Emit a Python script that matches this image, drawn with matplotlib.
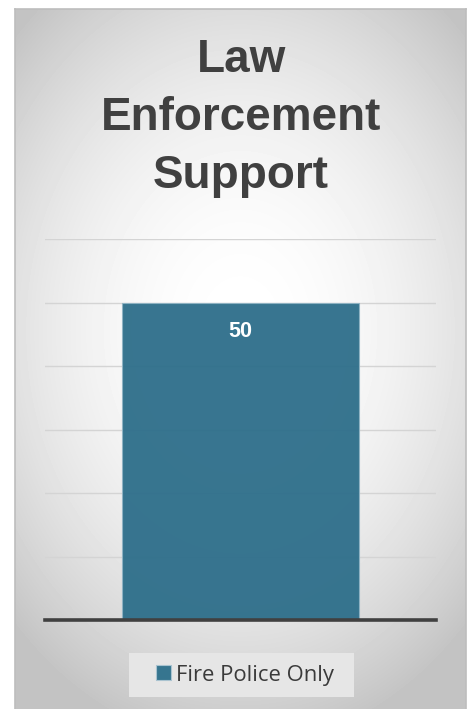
import numpy as np
import matplotlib.pyplot as plt
from matplotlib.patches import Patch, Rectangle

# --- Data ---
title_lines = ["Law", "Enforcement", "Support"]
series_name = "Fire Police Only"
categories = ["Fire Police Only"]
values = [50]
y_max = 60
y_step = 10

# --- Figure (pixel layout, origin top-left) ---
W, H = 476, 709
fig = plt.figure(figsize=(W / 100, H / 100), dpi=100)
fig.patch.set_facecolor("white")


def fig_rect(x0, y0, x1, y1):
    # pixel box -> figure fraction [left, bottom, width, height]
    return [x0 / W, 1 - y1 / H, (x1 - x0) / W, (y1 - y0) / H]


# --- Chart panel with radial gradient ---
bx0, by0, bx1, by1 = 15, 9, 466, 712
bg = fig.add_axes(fig_rect(bx0, by0, bx1, by1), zorder=0)
yy, xx = np.mgrid[by0:by1, bx0:bx1]
d = np.sqrt(((xx - 240) / 320.0) ** 2 + ((yy - 330) / 420.0) ** 2)
shade = 1 - (1 - 195 / 255) * np.clip(d, 0, 1) ** 2
bg.imshow(shade, cmap="gray", vmin=0, vmax=1, aspect="auto",
          extent=[0, 1, 0, 1], interpolation="bilinear")
bg.set_xlim(0, 1)
bg.set_ylim(0, 1)
bg.set_xticks([])
bg.set_yticks([])
for s in bg.spines.values():
    s.set_color("#bdbdbd")
    s.set_linewidth(1.2)

# --- Title ---
title_font = ["Liberation Sans", "DejaVu Sans"]
for line, base_y in zip(title_lines, [72, 130, 188]):
    fig.text(241 / W, 1 - base_y / H, line, ha="center", va="baseline",
             fontsize=33, fontweight="bold", color="#404040",
             family=title_font, zorder=3)

# --- Bar plot ---
ax = fig.add_axes(fig_rect(45, 239, 436, 620), zorder=1)
ax.patch.set_alpha(0)
x = np.arange(len(categories))
bars = ax.bar(x, values, width=0.606, color="#2D6E8A", alpha=0.95,
              edgecolor="#8fb3c4", linewidth=0.8, zorder=2)
ax.set_xlim(-0.5, 0.5)
ax.set_ylim(0, y_max)
ax.set_yticks(np.arange(0, y_max + 1, y_step))
ax.set_xticks([])
ax.tick_params(axis="y", length=0, labelleft=False)
ax.grid(axis="y", color="#d4d4d4", linewidth=1, zorder=1)
ax.set_axisbelow(True)
for side in ["top", "left", "right"]:
    ax.spines[side].set_visible(False)
ax.spines["bottom"].set_color("#404040")
ax.spines["bottom"].set_linewidth(2.6)
ax.spines["bottom"].set_zorder(3)

for xi, v in zip(x, values):
    ax.annotate(f"{v}", xy=(xi, v), xytext=(0, -29), textcoords="offset pixels",
                ha="center", va="center", color="white", fontsize=15.5,
                fontweight="bold", family=title_font, zorder=4)

# --- Legend ---
fig.patches.append(Rectangle((129 / W, 1 - 697 / H), 225 / W, 44 / H,
                             transform=fig.transFigure, facecolor="#e6e6e6",
                             edgecolor="none", zorder=2))
handle = Patch(facecolor="#36758F", edgecolor="#a9c3d0", linewidth=0.8,
               label=series_name)
fig.legend(handles=[handle], loc="center", bbox_to_anchor=(245 / W, 1 - 675 / H),
           frameon=False, handlelength=0.66, handleheight=0.66,
           handletextpad=0.25, labelcolor="#3a3a3a",
           prop={"family": ["Open Sans", "DejaVu Sans"], "size": 15.8})

fig.savefig("out.png", dpi=100)
